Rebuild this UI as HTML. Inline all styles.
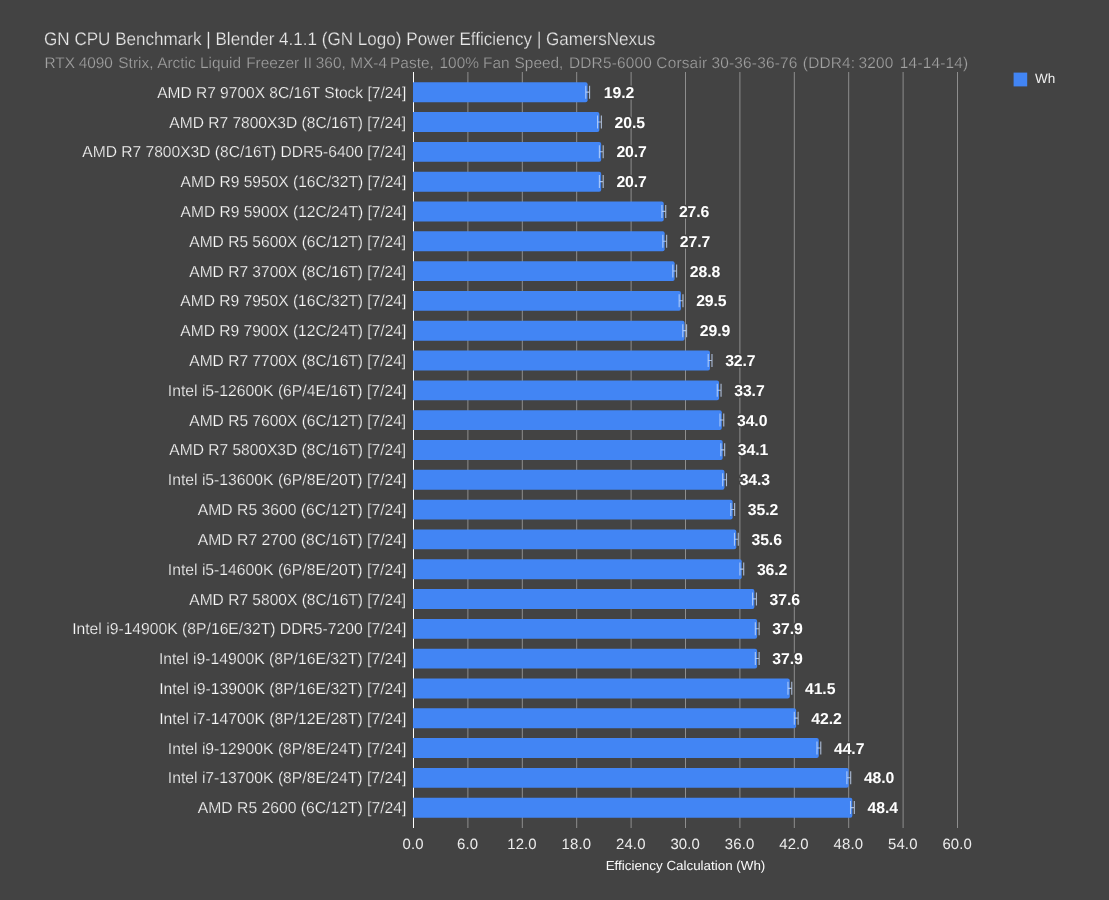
<!DOCTYPE html>
<html><head><meta charset="utf-8"><title>GN CPU Benchmark</title>
<style>
html,body{margin:0;padding:0;background:#434343;}
body{width:1109px;height:900px;overflow:hidden;}
text{stroke:#434343;stroke-width:0.25px;}
svg{display:block;text-rendering:geometricPrecision;font-family:"Liberation Sans",Arial,sans-serif;}
.t{font-size:18.2px;fill:#e8e8e8;}
.s{font-size:15.4px;fill:#a2a2a2;}
.l{font-size:15.9px;fill:#f8f8f8;}
.v{font-size:15.8px;fill:#ffffff;font-weight:bold;letter-spacing:-0.1px;stroke:#434343;stroke-width:3px;paint-order:stroke;stroke-linejoin:round;}
.x{font-size:14.9px;fill:#ececec;stroke:none;text-anchor:middle;letter-spacing:0.15px;}
.a{font-size:13.1px;fill:#fafafa;stroke:none;}
.g{font-size:13.5px;fill:#f0f0f0;stroke:none;}
</style></head><body>
<svg width="1109" height="900" viewBox="0 0 1109 900">
<rect width="1109" height="900" fill="#434343"/>
<text class="t" x="44.04" y="44.70" textLength="611.16" lengthAdjust="spacingAndGlyphs">GN CPU Benchmark | Blender 4.1.1 (GN Logo) Power Efficiency | GamersNexus</text>
<text class="s" y="67.85"><tspan x="44.45">RTX </tspan><tspan x="78.69">4090 </tspan><tspan x="118.36">Strix, </tspan><tspan x="157.17">Arctic </tspan><tspan x="199.96">Liquid </tspan><tspan x="246.13">Freezer </tspan><tspan x="303.48">II </tspan><tspan x="315.81">360, </tspan><tspan x="350.21">MX-4 </tspan><tspan x="390.11">Paste, </tspan><tspan x="439.54">100% </tspan><tspan x="483.05">Fan </tspan><tspan x="514.62">Speed, </tspan><tspan x="568.96" letter-spacing="0.2">DDR5-6000 </tspan><tspan x="656.34" letter-spacing="0.2">Corsair </tspan><tspan x="711.49" letter-spacing="0.2">30-36-36-76 </tspan><tspan x="802.84" letter-spacing="0.2">(DDR4: </tspan><tspan x="858.59" letter-spacing="0.2">3200 </tspan><tspan x="899.87" letter-spacing="0.2">14-14-14)</tspan></text>
<g stroke="#969696" stroke-width="0.9">
<line x1="467.90" y1="72" x2="467.90" y2="828"/>
<line x1="522.30" y1="72" x2="522.30" y2="828"/>
<line x1="576.70" y1="72" x2="576.70" y2="828"/>
<line x1="631.10" y1="72" x2="631.10" y2="828"/>
<line x1="685.50" y1="72" x2="685.50" y2="828"/>
<line x1="739.90" y1="72" x2="739.90" y2="828"/>
<line x1="794.30" y1="72" x2="794.30" y2="828"/>
<line x1="848.70" y1="72" x2="848.70" y2="828"/>
<line x1="903.10" y1="72" x2="903.10" y2="828"/>
<line x1="957.50" y1="72" x2="957.50" y2="828"/>
</g>
<rect x="413" y="72" width="1" height="756" fill="#ffffff"/>
<g fill="#4285f4">
<path d="M413 82.30h172.58a2 2 0 0 1 2 2v15.90a2 2 0 0 1 -2 2h-172.58z"/>
<path d="M413 112.11h184.37a2 2 0 0 1 2 2v15.90a2 2 0 0 1 -2 2h-184.37z"/>
<path d="M413 141.92h186.18a2 2 0 0 1 2 2v15.90a2 2 0 0 1 -2 2h-186.18z"/>
<path d="M413 171.73h186.18a2 2 0 0 1 2 2v15.90a2 2 0 0 1 -2 2h-186.18z"/>
<path d="M413 201.54h248.74a2 2 0 0 1 2 2v15.90a2 2 0 0 1 -2 2h-248.74z"/>
<path d="M413 231.35h249.65a2 2 0 0 1 2 2v15.90a2 2 0 0 1 -2 2h-249.65z"/>
<path d="M413 261.16h259.62a2 2 0 0 1 2 2v15.90a2 2 0 0 1 -2 2h-259.62z"/>
<path d="M413 290.97h265.97a2 2 0 0 1 2 2v15.90a2 2 0 0 1 -2 2h-265.97z"/>
<path d="M413 320.78h269.59a2 2 0 0 1 2 2v15.90a2 2 0 0 1 -2 2h-269.59z"/>
<path d="M413 350.59h294.98a2 2 0 0 1 2 2v15.90a2 2 0 0 1 -2 2h-294.98z"/>
<path d="M413 380.40h304.05a2 2 0 0 1 2 2v15.90a2 2 0 0 1 -2 2h-304.05z"/>
<path d="M413 410.21h306.77a2 2 0 0 1 2 2v15.90a2 2 0 0 1 -2 2h-306.77z"/>
<path d="M413 440.02h307.67a2 2 0 0 1 2 2v15.90a2 2 0 0 1 -2 2h-307.67z"/>
<path d="M413 469.83h309.49a2 2 0 0 1 2 2v15.90a2 2 0 0 1 -2 2h-309.49z"/>
<path d="M413 499.64h317.65a2 2 0 0 1 2 2v15.90a2 2 0 0 1 -2 2h-317.65z"/>
<path d="M413 529.45h321.27a2 2 0 0 1 2 2v15.90a2 2 0 0 1 -2 2h-321.27z"/>
<path d="M413 559.26h326.71a2 2 0 0 1 2 2v15.90a2 2 0 0 1 -2 2h-326.71z"/>
<path d="M413 589.07h339.41a2 2 0 0 1 2 2v15.90a2 2 0 0 1 -2 2h-339.41z"/>
<path d="M413 618.88h342.13a2 2 0 0 1 2 2v15.90a2 2 0 0 1 -2 2h-342.13z"/>
<path d="M413 648.69h342.13a2 2 0 0 1 2 2v15.90a2 2 0 0 1 -2 2h-342.13z"/>
<path d="M413 678.50h374.77a2 2 0 0 1 2 2v15.90a2 2 0 0 1 -2 2h-374.77z"/>
<path d="M413 708.31h381.11a2 2 0 0 1 2 2v15.90a2 2 0 0 1 -2 2h-381.11z"/>
<path d="M413 738.12h403.78a2 2 0 0 1 2 2v15.90a2 2 0 0 1 -2 2h-403.78z"/>
<path d="M413 767.93h433.70a2 2 0 0 1 2 2v15.90a2 2 0 0 1 -2 2h-433.70z"/>
<path d="M413 797.74h437.33a2 2 0 0 1 2 2v15.90a2 2 0 0 1 -2 2h-437.33z"/>
</g>
<g stroke="#c4d9fb" stroke-opacity="0.8" stroke-width="1.1" fill="none">
<path d="M585.78 85.65v13M589.58 85.65v13M585.78 92.15h3.8"/>
<path d="M597.57 115.46v13M601.37 115.46v13M597.57 121.96h3.8"/>
<path d="M599.38 145.27v13M603.18 145.27v13M599.38 151.77h3.8"/>
<path d="M599.38 175.08v13M603.18 175.08v13M599.38 181.58h3.8"/>
<path d="M661.94 204.89v13M665.74 204.89v13M661.94 211.39h3.8"/>
<path d="M662.85 234.70v13M666.65 234.70v13M662.85 241.20h3.8"/>
<path d="M672.82 264.51v13M676.62 264.51v13M672.82 271.01h3.8"/>
<path d="M679.17 294.32v13M682.97 294.32v13M679.17 300.82h3.8"/>
<path d="M682.79 324.13v13M686.59 324.13v13M682.79 330.63h3.8"/>
<path d="M708.18 353.94v13M711.98 353.94v13M708.18 360.44h3.8"/>
<path d="M717.25 383.75v13M721.05 383.75v13M717.25 390.25h3.8"/>
<path d="M719.97 413.56v13M723.77 413.56v13M719.97 420.06h3.8"/>
<path d="M720.87 443.37v13M724.67 443.37v13M720.87 449.87h3.8"/>
<path d="M722.69 473.18v13M726.49 473.18v13M722.69 479.68h3.8"/>
<path d="M730.85 502.99v13M734.65 502.99v13M730.85 509.49h3.8"/>
<path d="M734.47 532.80v13M738.27 532.80v13M734.47 539.30h3.8"/>
<path d="M739.91 562.61v13M743.71 562.61v13M739.91 569.11h3.8"/>
<path d="M752.61 592.42v13M756.41 592.42v13M752.61 598.92h3.8"/>
<path d="M755.33 622.23v13M759.13 622.23v13M755.33 628.73h3.8"/>
<path d="M755.33 652.04v13M759.13 652.04v13M755.33 658.54h3.8"/>
<path d="M787.97 681.85v13M791.77 681.85v13M787.97 688.35h3.8"/>
<path d="M794.31 711.66v13M798.11 711.66v13M794.31 718.16h3.8"/>
<path d="M816.98 741.47v13M820.78 741.47v13M816.98 747.97h3.8"/>
<path d="M846.90 771.28v13M850.70 771.28v13M846.90 777.78h3.8"/>
<path d="M850.53 801.09v13M854.33 801.09v13M850.53 807.59h3.8"/>
</g>
<text class="l" x="157.15" y="97.75" textLength="249.15" lengthAdjust="spacingAndGlyphs">AMD R7 9700X 8C/16T Stock [7/24]</text>
<text class="v" x="603.78" y="97.75">19.2</text>
<text class="l" x="169.30" y="127.56" textLength="236.88" lengthAdjust="spacingAndGlyphs">AMD R7 7800X3D (8C/16T) [7/24]</text>
<text class="v" x="614.57" y="127.56">20.5</text>
<text class="l" x="82.37" y="157.37" textLength="323.82" lengthAdjust="spacingAndGlyphs">AMD R7 7800X3D (8C/16T) DDR5-6400 [7/24]</text>
<text class="v" x="616.38" y="157.37">20.7</text>
<text class="l" x="180.59" y="187.18" textLength="225.77" lengthAdjust="spacingAndGlyphs">AMD R9 5950X (16C/32T) [7/24]</text>
<text class="v" x="616.38" y="187.18">20.7</text>
<text class="l" x="180.59" y="216.99" textLength="225.77" lengthAdjust="spacingAndGlyphs">AMD R9 5900X (12C/24T) [7/24]</text>
<text class="v" x="678.94" y="216.99">27.6</text>
<text class="l" x="189.30" y="246.80" textLength="216.88" lengthAdjust="spacingAndGlyphs">AMD R5 5600X (6C/12T) [7/24]</text>
<text class="v" x="679.85" y="246.80">27.7</text>
<text class="l" x="189.30" y="276.61" textLength="216.88" lengthAdjust="spacingAndGlyphs">AMD R7 3700X (8C/16T) [7/24]</text>
<text class="v" x="689.82" y="276.61">28.8</text>
<text class="l" x="180.33" y="306.42" textLength="226.00" lengthAdjust="spacingAndGlyphs">AMD R9 7950X (16C/32T) [7/24]</text>
<text class="v" x="696.17" y="306.42">29.5</text>
<text class="l" x="180.33" y="336.23" textLength="226.00" lengthAdjust="spacingAndGlyphs">AMD R9 7900X (12C/24T) [7/24]</text>
<text class="v" x="699.79" y="336.23">29.9</text>
<text class="l" x="189.30" y="366.04" textLength="216.88" lengthAdjust="spacingAndGlyphs">AMD R7 7700X (8C/16T) [7/24]</text>
<text class="v" x="725.18" y="366.04">32.7</text>
<text class="l" x="167.82" y="395.85" textLength="238.45" lengthAdjust="spacingAndGlyphs">Intel i5-12600K (6P/4E/16T) [7/24]</text>
<text class="v" x="734.25" y="395.85">33.7</text>
<text class="l" x="189.30" y="425.66" textLength="216.88" lengthAdjust="spacingAndGlyphs">AMD R5 7600X (6C/12T) [7/24]</text>
<text class="v" x="736.97" y="425.66">34.0</text>
<text class="l" x="169.30" y="455.47" textLength="236.88" lengthAdjust="spacingAndGlyphs">AMD R7 5800X3D (8C/16T) [7/24]</text>
<text class="v" x="737.87" y="455.47">34.1</text>
<text class="l" x="167.82" y="485.28" textLength="238.45" lengthAdjust="spacingAndGlyphs">Intel i5-13600K (6P/8E/20T) [7/24]</text>
<text class="v" x="739.69" y="485.28">34.3</text>
<text class="l" x="197.83" y="515.09" textLength="208.49" lengthAdjust="spacingAndGlyphs">AMD R5 3600 (6C/12T) [7/24]</text>
<text class="v" x="747.85" y="515.09">35.2</text>
<text class="l" x="197.83" y="544.90" textLength="208.49" lengthAdjust="spacingAndGlyphs">AMD R7 2700 (8C/16T) [7/24]</text>
<text class="v" x="751.47" y="544.90">35.6</text>
<text class="l" x="167.82" y="574.71" textLength="238.45" lengthAdjust="spacingAndGlyphs">Intel i5-14600K (6P/8E/20T) [7/24]</text>
<text class="v" x="756.91" y="574.71">36.2</text>
<text class="l" x="189.30" y="604.52" textLength="216.88" lengthAdjust="spacingAndGlyphs">AMD R7 5800X (8C/16T) [7/24]</text>
<text class="v" x="769.61" y="604.52">37.6</text>
<text class="l" x="72.18" y="634.33" textLength="334.15" lengthAdjust="spacingAndGlyphs">Intel i9-14900K (8P/16E/32T) DDR5-7200 [7/24]</text>
<text class="v" x="772.33" y="634.33">37.9</text>
<text class="l" x="158.89" y="664.14" textLength="247.50" lengthAdjust="spacingAndGlyphs">Intel i9-14900K (8P/16E/32T) [7/24]</text>
<text class="v" x="772.33" y="664.14">37.9</text>
<text class="l" x="159.18" y="693.95" textLength="247.20" lengthAdjust="spacingAndGlyphs">Intel i9-13900K (8P/16E/32T) [7/24]</text>
<text class="v" x="804.97" y="693.95">41.5</text>
<text class="l" x="159.18" y="723.76" textLength="247.20" lengthAdjust="spacingAndGlyphs">Intel i7-14700K (8P/12E/28T) [7/24]</text>
<text class="v" x="811.31" y="723.76">42.2</text>
<text class="l" x="167.82" y="753.57" textLength="238.45" lengthAdjust="spacingAndGlyphs">Intel i9-12900K (8P/8E/24T) [7/24]</text>
<text class="v" x="833.98" y="753.57">44.7</text>
<text class="l" x="167.82" y="783.38" textLength="238.45" lengthAdjust="spacingAndGlyphs">Intel i7-13700K (8P/8E/24T) [7/24]</text>
<text class="v" x="863.90" y="783.38">48.0</text>
<text class="l" x="197.83" y="813.19" textLength="208.49" lengthAdjust="spacingAndGlyphs">AMD R5 2600 (6C/12T) [7/24]</text>
<text class="v" x="867.53" y="813.19">48.4</text>
<text class="x" x="413.20" y="849.4">0.0</text>
<text class="x" x="467.60" y="849.4">6.0</text>
<text class="x" x="522.00" y="849.4">12.0</text>
<text class="x" x="576.40" y="849.4">18.0</text>
<text class="x" x="630.80" y="849.4">24.0</text>
<text class="x" x="685.20" y="849.4">30.0</text>
<text class="x" x="739.60" y="849.4">36.0</text>
<text class="x" x="794.00" y="849.4">42.0</text>
<text class="x" x="848.40" y="849.4">48.0</text>
<text class="x" x="902.80" y="849.4">54.0</text>
<text class="x" x="957.20" y="849.4">60.0</text>
<text class="a" x="605.67" y="870.00" textLength="159.67" lengthAdjust="spacingAndGlyphs">Efficiency Calculation (Wh)</text>
<rect x="1013.6" y="72.6" width="13.6" height="13.8" fill="#4285f4"/>
<text class="g" x="1035" y="83.4">Wh</text>
</svg></body></html>
